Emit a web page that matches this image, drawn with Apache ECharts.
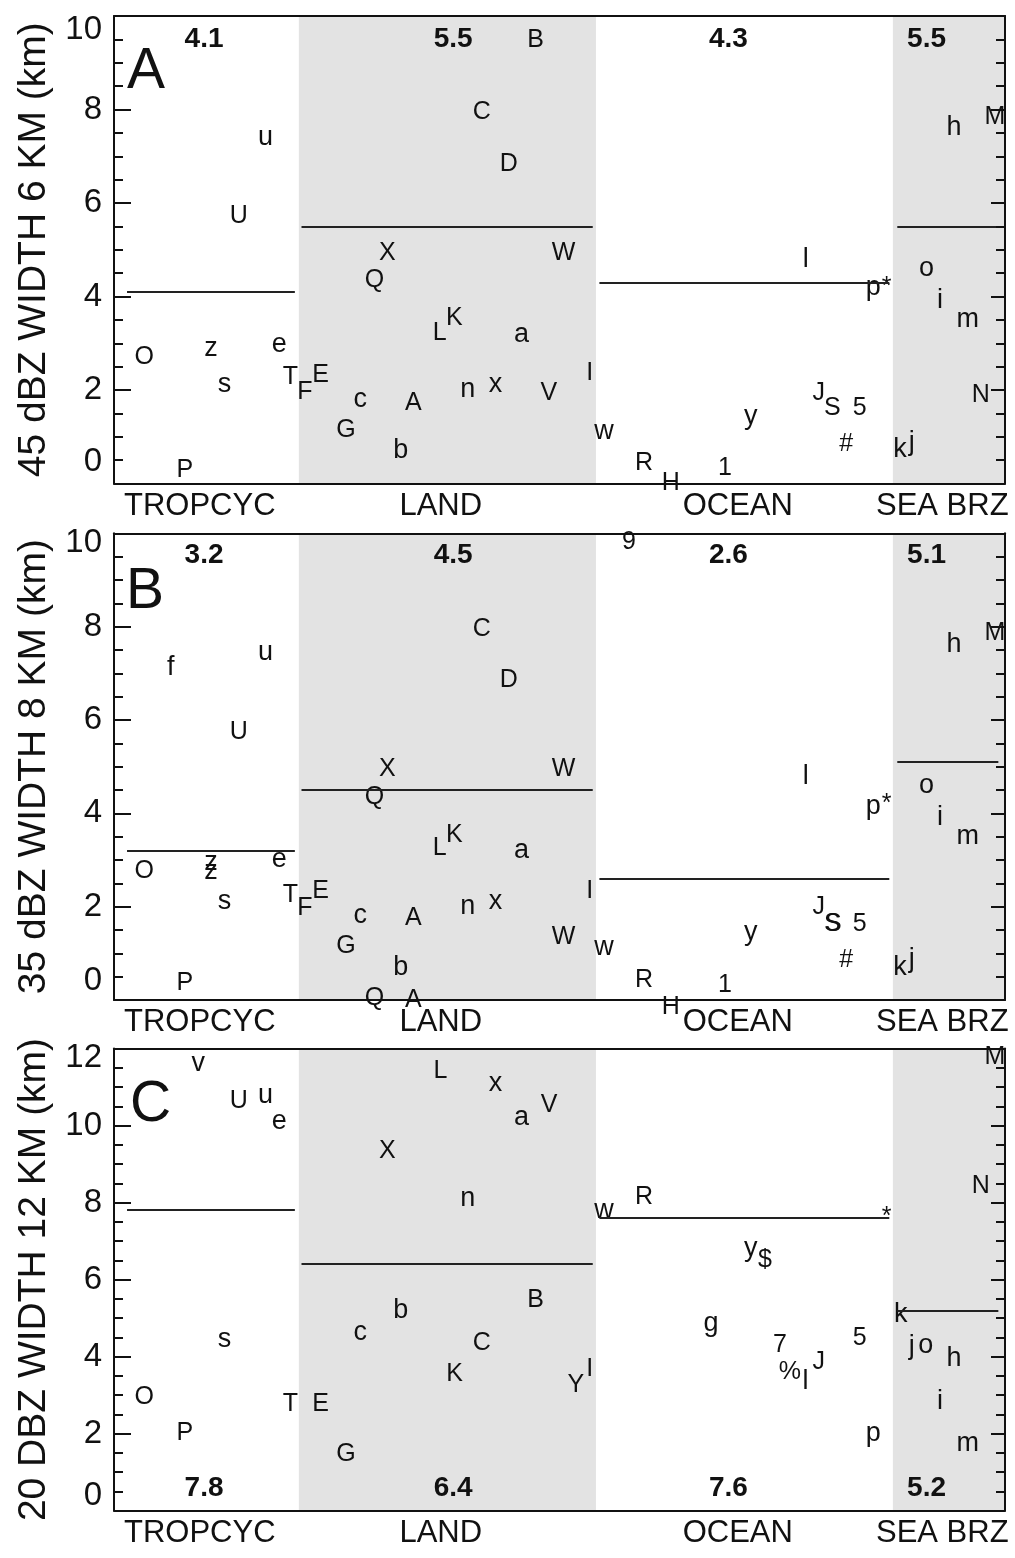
<!DOCTYPE html>
<html>
<head>
<meta charset="utf-8">
<script src="https://cdn.jsdelivr.net/npm/echarts@6/dist/echarts.min.js"></script>
<style>
html,body{margin:0;padding:0;background:#fff;}
#chart{width:1015px;height:1558px;}
</style>
</head>
<body>
<div id="chart"></div>
<script>
// ---------------- DATA ----------------
const regionNames = ['TROPCYC', 'LAND', 'OCEAN', 'SEA BRZ'];
const regionBounds = [0, 13.9, 36.24, 58.57, 67];   // case-index boundaries of the regimes
const shadedRegions = [1, 3];

const yTitles = ['45 dBZ WIDTH 6 KM (km)', '35 dBZ WIDTH 8 KM (km)', '20 DBZ WIDTH 12 KM (km)'];
const yMaxes = [10, 10, 12];
const panelLetters = ['A', 'B', 'C'];

const meansA = [4.1, 5.5, 4.3, 5.5];
const meansB = [3.2, 4.5, 2.6, 5.1];
const meansC = [7.8, 6.4, 7.6, 5.2];

// Panel A : 45 dBZ width at 6 km
const symA = ['O','P','z','s','U','u','e','T','F','E','G','c','Q','X','b','A','L','K','n','C','x','D','a','B','V','W','I',
              'w','R','H','1','y','l','J','S','#','5','p','*','k','j','o','i','h','m','N','M'];
const xA = [2.27,5.32,7.29,8.31,9.38,11.39,12.43,13.27,14.36,15.53,17.44,18.52,19.59,20.56,21.56,22.5,24.5,25.6,26.6,27.65,28.68,29.68,30.65,31.7,32.7,33.8,35.77,
            36.84,39.85,41.86,45.94,47.89,52.02,53.0,54.02,55.06,56.07,57.09,58.1,59.1,59.98,61.09,62.11,63.16,64.2,65.17,66.24];
const yA = [2.56,0.15,2.78,1.99,5.58,7.28,2.86,2.14,1.82,2.18,1.00,1.68,4.21,4.78,0.59,1.57,3.07,3.39,1.89,7.80,1.99,6.69,3.07,9.34,1.79,4.78,2.21,
            1.00,0.29,-0.14,0.18,1.32,4.67,1.79,1.47,0.70,1.47,4.07,4.06,0.61,0.75,4.48,3.80,7.49,3.39,1.75,7.70];

// Panel B : 35 dBZ width at 8 km
const symB = ['f','u','U','O','z','z','e','s','T','F','E','P','C','D','X','W','Q','L','K','a','c','A','n','x','I','W','G','b','Q','A',
              'w','9','l','p','*','o','i','m','h','M','J','S','S','5','y','#','k','j','R','H','1'];
const xB = [4.26,11.39,9.38,2.27,7.29,7.29,12.43,8.31,13.27,14.36,15.53,5.32,27.65,29.68,20.56,33.8,19.59,24.5,25.6,30.65,18.52,22.5,26.6,28.68,35.77,33.8,17.44,21.56,19.59,22.5,
            36.84,38.72,52.02,57.09,58.1,61.09,62.11,64.2,63.16,66.24,53.0,54.02,54.1,56.07,47.89,55.06,59.1,59.98,39.85,41.86,45.94];
const yB = [7.00,7.32,5.59,2.61,2.82,2.64,2.89,2.00,2.11,1.82,2.18,0.21,7.80,6.71,4.81,4.81,4.21,3.11,3.39,3.09,1.70,1.61,1.89,2.00,2.18,1.21,1.00,0.57,-0.11,-0.14,
            1.00,9.66,4.68,4.03,4.05,4.48,3.80,3.39,7.51,7.71,1.84,1.48,1.48,1.48,1.32,0.70,0.57,0.75,0.29,-0.29,0.18];

// Panel C : 20 dBZ width at 12 km
const symC = ['v','U','u','e','s','O','T','E','P','L','x','a','V','X','n','b','B','c','C','K','Y','I','G',
              'M','N','w','R','*','y','$','k','g','7','5','j','o','h','%','l','J','i','p','m'];
const xC = [6.34,9.38,11.39,12.43,8.31,2.27,13.27,15.53,5.32,24.54,28.68,30.65,32.71,20.56,26.6,21.56,31.71,18.52,27.65,25.62,34.72,35.77,17.44,
            66.24,65.17,36.84,39.85,58.1,47.89,48.95,59.16,44.89,50.08,56.07,59.99,61.05,63.16,50.83,52.0,53.0,62.11,57.09,64.2];
const yC = [11.48,10.45,10.63,9.96,4.29,2.78,2.60,2.59,1.83,11.24,10.96,10.07,10.36,9.17,7.97,5.06,5.28,4.49,4.16,3.38,3.08,3.51,1.29,
            11.59,8.26,7.66,7.97,7.45,6.66,6.32,4.94,4.72,4.11,4.29,4.11,4.14,3.81,3.42,3.21,3.68,2.69,1.87,1.59];

// ---------------- LAYOUT / STYLE ----------------
const FONT = '"Liberation Sans", Arial, Helvetica, sans-serif';
const INK = '#111';
const grids = [
  {top: 16, height: 467.5},
  {top: 533.3, height: 466.7},
  {top: 1048.5, height: 462}
];
const labelShift = [[22, 14], [19, 10], [15, 9]];   // [min label up, max label down] px
const meanLineSpan = [[0.98, 13.6], [14.1, 36.0], [36.5, 58.3], [58.9, 66.5]];
const meanLabelX = [6.77, 25.5, 46.2, 61.1];
const meanLabelYFrac = [0.95, 0.953, 0.048];
const letterTitlePos = [[122, 39], [121, 559], [125, 1072]];

function letterFont(s) {
  if (/[a-z]/.test(s)) return 27;
  return 25;
}
function letterShift(s, fs) {
  return -0.35 * fs + (/[a-z]/.test(s) ? 4 : 2);
}

const panels = [
  {sym: symA, x: xA, y: yA, means: meansA},
  {sym: symB, x: xB, y: yB, means: meansB},
  {sym: symC, x: xC, y: yC, means: meansC}
];

const regionLabelAt = regionNames.map((_, i) => (regionBounds[i] + regionBounds[i + 1]) / 2 - 0.5);

const option = {
  animation: false,
  backgroundColor: '#fff',
  title: [], grid: [], xAxis: [], yAxis: [], series: []
};

panels.forEach((p, k) => {
  const yMax = yMaxes[k];
  option.grid.push({left: 114, right: 10, top: grids[k].top, height: grids[k].height, containLabel: false});
  option.title.push({
    text: panelLetters[k], left: letterTitlePos[k][0], top: letterTitlePos[k][1],
    textStyle: {fontFamily: FONT, fontSize: 57, fontWeight: 'normal', color: INK}
  });
  // bottom x axis with regime names
  option.xAxis.push({
    type: 'value', gridIndex: k, min: regionBounds[0], max: regionBounds[regionBounds.length - 1], position: 'bottom', z: 5,
    axisLine: {show: true, onZero: false, lineStyle: {color: INK, width: 2}},
    axisTick: {show: false}, splitLine: {show: false},
    axisLabel: {
      show: true, customValues: regionLabelAt, margin: 7, fontFamily: FONT, fontSize: 31, color: INK,
      formatter: (v) => {
        let best = 0;
        regionLabelAt.forEach((c, i) => { if (Math.abs(c - v) < Math.abs(regionLabelAt[best] - v)) best = i; });
        return regionNames[best];
      }
    }
  });
  // top frame
  option.xAxis.push({
    type: 'value', gridIndex: k, min: regionBounds[0], max: regionBounds[regionBounds.length - 1], position: 'top', z: 5,
    axisLine: {show: true, onZero: false, lineStyle: {color: INK, width: 2}},
    axisTick: {show: false}, axisLabel: {show: false}, splitLine: {show: false}
  });
  const sh = labelShift[k];
  option.yAxis.push({
    type: 'value', gridIndex: k, min: 0, max: yMax, interval: 2, position: 'left', z: 5,
    axisLine: {show: true, onZero: false, lineStyle: {color: INK, width: 2}},
    axisTick: {show: true, inside: true, length: 17, lineStyle: {color: INK, width: 2}},
    minorTick: {show: true, splitNumber: 4, length: 9, lineStyle: {color: INK, width: 2}},
    splitLine: {show: false},
    axisLabel: {
      margin: 12, fontFamily: FONT, fontSize: 33, color: INK,
      formatter: (v) => v === 0 ? '{lo|0}' : (v === yMax ? '{hi|' + v + '}' : String(v)),
      rich: {
        lo: {fontFamily: FONT, fontSize: 33, color: INK, padding: [0, 0, 2 * sh[0], 0]},
        hi: {fontFamily: FONT, fontSize: 33, color: INK, padding: [2 * sh[1], 0, 0, 0]}
      }
    },
    name: yTitles[k], nameLocation: 'middle', nameGap: 60,
    nameTextStyle: {fontFamily: FONT, fontSize: 39, color: INK}
  });
  option.yAxis.push({
    type: 'value', gridIndex: k, min: 0, max: yMax, interval: 2, position: 'right', z: 5,
    axisLine: {show: true, onZero: false, lineStyle: {color: INK, width: 2}},
    axisTick: {show: true, inside: true, length: 14, lineStyle: {color: INK, width: 2}},
    minorTick: {show: true, splitNumber: 4, length: 9, lineStyle: {color: INK, width: 2}},
    splitLine: {show: false}, axisLabel: {show: false}
  });

  // letters (case symbols), shading of regimes and regime-mean lines
  option.series.push({
    type: 'scatter', xAxisIndex: 2 * k, yAxisIndex: 2 * k, clip: false, z: 3,
    symbol: 'circle', symbolSize: 1, itemStyle: {color: 'rgba(0,0,0,0)', opacity: 1},
    silent: true,
    data: p.sym.map((s, i) => {
      const fs = letterFont(s);
      return {
        name: s, value: [p.x[i], p.y[i]],
        label: {show: true, position: 'inside', formatter: '{b}', fontFamily: FONT, fontSize: fs, color: INK, opacity: 1,
                align: 'center', verticalAlign: 'middle', offset: [0, letterShift(s, fs)]}
      };
    }),
    markArea: {
      silent: true, itemStyle: {color: '#e3e3e3', opacity: 1}, label: {show: false},
      data: shadedRegions.map(r => [{xAxis: regionBounds[r]}, {xAxis: regionBounds[r + 1]}])
    },
    markLine: {
      silent: true, symbol: ['none', 'none'], label: {show: false},
      lineStyle: {color: '#222', width: 2, type: 'solid', opacity: 1},
      data: p.means.map((m, i) => [{coord: [meanLineSpan[i][0], m]}, {coord: [meanLineSpan[i][1], m]}])
    }
  });
  // regime mean values
  option.series.push({
    type: 'scatter', xAxisIndex: 2 * k, yAxisIndex: 2 * k, clip: false, z: 4, silent: true,
    symbol: 'circle', symbolSize: 1, itemStyle: {color: 'rgba(0,0,0,0)', opacity: 1},
    data: p.means.map((m, i) => ({value: [meanLabelX[i], yMax * meanLabelYFrac[k]], name: m.toFixed(1)})),
    label: {show: true, position: 'inside', formatter: '{b}', fontFamily: FONT, fontSize: 28, fontWeight: 'bold', color: INK, opacity: 1}
  });
});

const chart = echarts.init(document.getElementById('chart'), null, {renderer: 'canvas'});
chart.setOption(option);
</script>
</body>
</html>
